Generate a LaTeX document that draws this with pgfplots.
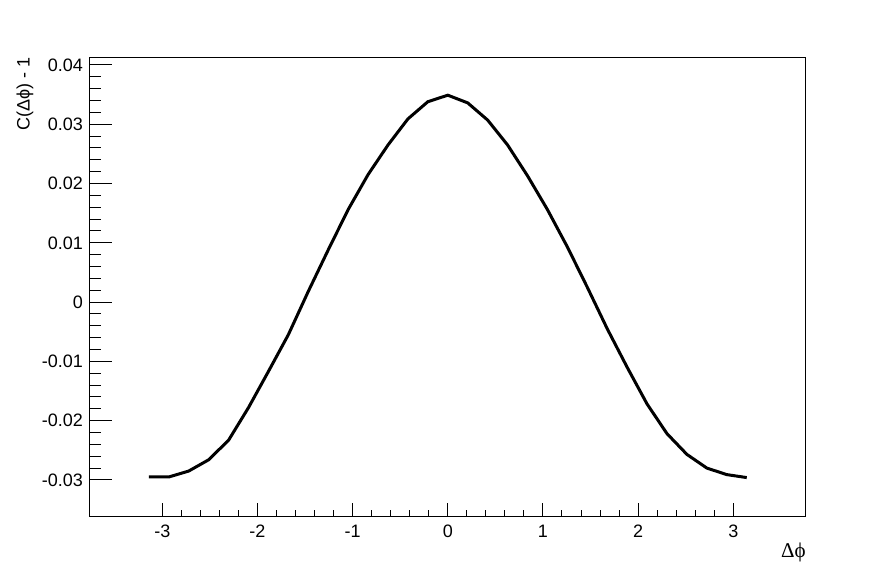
\documentclass[border=0pt]{standalone}
\usepackage{pgfplots}
\pgfplotsset{compat=1.18}
\usepackage{fontspec}
\setmainfont{Liberation Sans}
\newfontfamily\serifgreek{Liberation Serif}

\begin{document}
\begin{tikzpicture}
\path[use as bounding box] (-44.85pt,-29pt) rectangle (403.15pt,258pt);
\begin{axis}[
    at={(0,0)}, anchor=south west,
    scale only axis,
    width=358.15pt, height=229.35pt,
    xmin=-3.763, xmax=3.764,
    ymin=-0.03608, ymax=0.04129,
    axis line style={line width=0.5pt},
    font=\fontsize{9}{10}\selectfont,
    /pgf/number format/assume math mode=true,
    xtick={-3,-2,-1,0,1,2,3},
    xticklabels={-3,-2,-1,0,1,2,3},
    minor x tick num=4,
    ytick={-0.03,-0.02,-0.01,0,0.01,0.02,0.03,0.04},
    yticklabels={-0.03,-0.02,-0.01,0,0.01,0.02,0.03,0.04},
    minor y tick num=4,
    scaled y ticks=false,
    xtick pos=left, ytick pos=left,
    tick align=inside,
    xtick style={black, line width=0.5pt, /pgfplots/major tick length=6.5pt, /pgfplots/minor tick length=3.25pt},
    ytick style={black, line width=0.5pt, /pgfplots/major tick length=11pt, /pgfplots/minor tick length=5.5pt},
    xticklabel style={inner sep=0pt, anchor=north, yshift=-4.5pt},
    yticklabel style={inner sep=0pt, anchor=east, xshift=-3.2pt},
    xlabel={\serifgreek\fontsize{10.5}{12}\selectfont Δϕ},
    xlabel style={at={(axis description cs:1,0)}, anchor=east, inner sep=0pt, yshift=-18pt},
    ylabel={\fontsize{9}{10}\selectfont C(Δϕ) - 1},
    ylabel style={at={(axis description cs:-0.0902,1)}, anchor=east, inner sep=0pt},
]
\addplot[black, line width=1.5pt] coordinates {
(-3.1416,-0.0295) (-2.9322,-0.0295) (-2.7227,-0.0285) (-2.5133,-0.0266)
(-2.3038,-0.0233) (-2.0944,-0.0178) (-1.8850,-0.0117) (-1.6755,-0.0055)
(-1.4661,0.0018) (-1.2566,0.0088) (-1.0472,0.0156) (-0.8378,0.0215)
(-0.6283,0.0265) (-0.4189,0.0309) (-0.2094,0.0338) (0,0.0349)
(0.2094,0.0336) (0.4189,0.0307) (0.6283,0.0265) (0.8378,0.0213)
(1.0472,0.0156) (1.2566,0.0093) (1.4661,0.0025) (1.6755,-0.0045)
(1.8850,-0.0110) (2.0944,-0.0172) (2.3038,-0.0222) (2.5133,-0.0257)
(2.7227,-0.0280) (2.9322,-0.0291) (3.1416,-0.0296)
};
\end{axis}
\end{tikzpicture}
\end{document}
